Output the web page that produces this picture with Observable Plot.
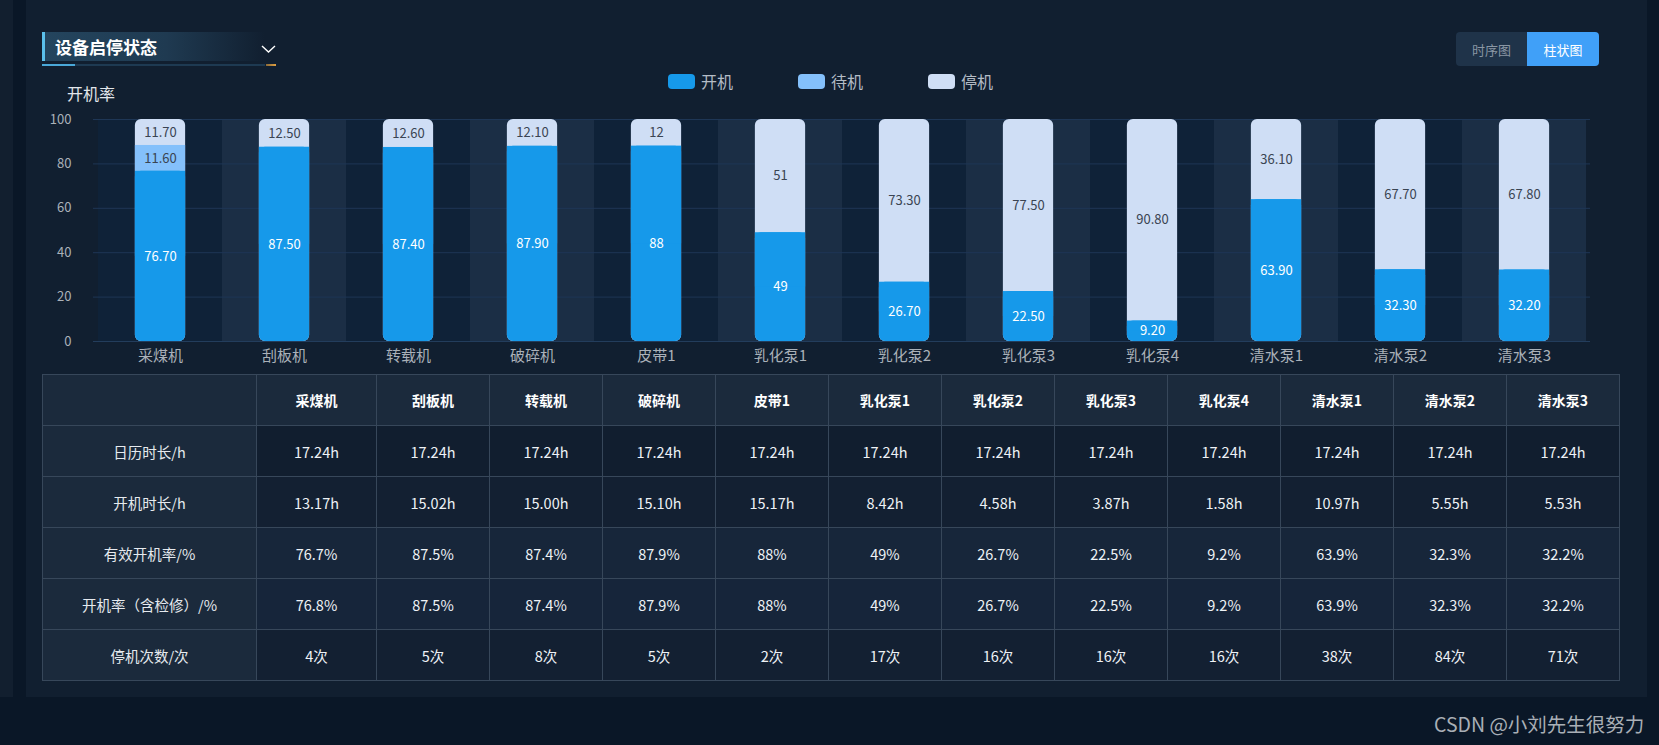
<!DOCTYPE html>
<html><head><meta charset="utf-8">
<script src="https://cdn.jsdelivr.net/npm/d3@7"></script>
<script src="https://cdn.jsdelivr.net/npm/@observablehq/plot@0.6"></script>
<style>
html,body{margin:0;padding:0}
body{width:1659px;height:745px;background:#0a1727;position:relative;overflow:hidden;font-family:"Noto Sans CJK SC","Noto Sans",sans-serif}
.abs{position:absolute}
#title{left:42px;top:32px;width:223px;height:29px;border-left:3px solid #5bc0eb;box-sizing:border-box;
  background:linear-gradient(to right,#24455e 0%,#1f3a51 55%,rgba(17,31,48,0.2) 100%);
  color:#fff;font-weight:bold;font-size:17px;line-height:29px;padding-left:10px}
.leg{top:72px;height:18px;display:flex;align-items:center;color:#b4bcc6;font-size:16px}
.sw{width:27px;height:15px;border-radius:4px;margin-right:6px}
#toggle{left:1456px;top:32px;width:143px;height:34px;border-radius:4px;overflow:hidden;display:flex;font-size:13px}
#toggle div{display:flex;align-items:center;justify-content:center}
table{border-collapse:collapse;table-layout:fixed;font-size:14.5px;color:#eef2f6}
td,th{border:1px solid #37475a;text-align:center;padding:0}
th{font-weight:bold;color:#fff;background:#1b2a3c;font-size:14px}
td.lab{background:#1b2a3c;color:#e6eaef}
</style></head><body>
<div class="abs" style="left:0;top:0;width:13px;height:697px;background:#121f2f"></div>
<div class="abs" style="left:26px;top:0;width:1621px;height:697px;background:#111f30"></div>
<div class="abs" id="title">设备启停状态</div>
<svg class="abs" style="left:260px;top:43px" width="18" height="12"><polyline points="2,3 8.5,9 15,3" fill="none" stroke="#fff" stroke-width="1.4"/></svg>
<div class="abs" style="left:42px;top:64px;width:223px;height:2px;background:#1e3a52"></div>
<div class="abs" style="left:42px;top:64px;width:33px;height:2px;background:#4aa8d8"></div>
<div class="abs" style="left:266px;top:64px;width:10px;height:2px;background:linear-gradient(to right,#8a6a3a,#e0a040)"></div>
<div class="abs" id="toggle"><div style="width:71px;background:#1f3349;color:#8a96a4">时序图</div><div style="width:72px;background:#40a0f8;color:#fff">柱状图</div></div>
<div id="legend"></div>
<div class="abs" style="left:67px;top:81px;font-size:16px;color:#e2e6eb">开机率</div>
<div class="abs" id="chart" style="left:0;top:100px"></div>
<table class="abs" id="tbl" style="left:42px;top:374px;width:1578px"></table>
<div class="abs" style="left:1434px;top:709px;font-size:19.5px;color:#a9afb6">CSDN @小刘先生很努力</div>
<script>
const categories = ["采煤机","刮板机","转载机","破碎机","皮带1","乳化泵1","乳化泵2","乳化泵3","乳化泵4","清水泵1","清水泵2","清水泵3"];
const runValues = [76.7,87.5,87.4,87.9,88,49,26.7,22.5,9.2,63.9,32.3,32.2];
const standbyValues = [11.6,0,0,0,0,0,0,0,0,0,0,0];
const stopValues = [11.7,12.5,12.6,12.1,12,51,73.3,77.5,90.8,36.1,67.7,67.8];
const yTicks = [0,20,40,60,80,100];
const seriesNames = ["开机","待机","停机"];
const seriesColors = ["#1699ea","#84c0fb","#cfdef5"];

const rowLabels = ["日历时长/h","开机时长/h","有效开机率/%","开机率（含检修）/%","停机次数/次"];
const calendarHours = [17.24,17.24,17.24,17.24,17.24,17.24,17.24,17.24,17.24,17.24,17.24,17.24];
const runHours = [13.17,15.02,15.00,15.10,15.17,8.42,4.58,3.87,1.58,10.97,5.55,5.53];
const effectiveRate = [76.7,87.5,87.4,87.9,88,49,26.7,22.5,9.2,63.9,32.3,32.2];
const rateWithRepair = [76.8,87.5,87.4,87.9,88,49,26.7,22.5,9.2,63.9,32.3,32.2];
const stopCounts = [4,5,8,5,2,17,16,16,16,38,84,71];

const fmt = v => Number.isInteger(v) ? String(v) : v.toFixed(2);
const rows = categories.map((c,i)=>({cat:c,on:runValues[i],standby:standbyValues[i],off:stopValues[i]}));

// legend
const legend = document.getElementById("legend");
const legX = [668,798,928];
seriesNames.forEach((n,i)=>{
  const d = document.createElement("div");
  d.className="abs leg"; d.style.left=legX[i]+"px";
  d.innerHTML = `<div class="sw" style="background:${seriesColors[i]}"></div><span>${n}</span>`;
  legend.appendChild(d);
});

const W=1659,H=270,mL=93,mR=69,mT=19,mB=29;
const step=(W-mL-mR)/categories.length, barW=51, ins=(step-barW)/2;
const bi={insetLeft:ins,insetRight:ins};
const chart = Plot.plot({
  width:W,height:H,marginLeft:mL,marginRight:mR,marginTop:mT,marginBottom:mB,
  style:{background:"transparent",fontFamily:'"Noto Sans CJK SC","Noto Sans",sans-serif',fontSize:"13px",color:"#aab1b9",overflow:"visible"},
  x:{domain:categories,padding:0,label:null},
  y:{domain:[0,100],label:null},
  marks:[
    Plot.cell(categories.filter((d,i)=>i%2===0),{x:d=>d,fill:"#0f2238"}),
    Plot.cell(categories.filter((d,i)=>i%2===1),{x:d=>d,fill:"#1b2e45"}),
    Plot.gridY(yTicks.filter(t=>t>0),{stroke:"#1e3655",strokeOpacity:1}),
    Plot.ruleY([0],{stroke:"#233d5c"}),
    Plot.axisX({tickSize:0,tickPadding:9,fontSize:15,label:null,fill:"#aab1b9"}),
    Plot.axisY({ticks:yTicks,tickSize:0,tickPadding:22,fontSize:13,label:null,fill:"#aab1b9"}),
    Plot.barY(rows,{x:"cat",y:d=>d.on+d.standby+d.off,fill:seriesColors[2],rx:6,...bi}),
    Plot.barY(rows,{x:"cat",y1:d=>d.on,y2:d=>d.on+d.standby,fill:seriesColors[1],...bi}),
    Plot.barY(rows,{x:"cat",y:"on",fill:seriesColors[0],rx:6,...bi}),
    Plot.barY(rows,{x:"cat",y1:d=>d.on/2,y2:"on",fill:seriesColors[0],...bi}),
    Plot.text(rows,{x:"cat",y:d=>d.on/2,text:d=>fmt(d.on),fill:"#ffffff",fontSize:13}),
    Plot.text(rows.filter(d=>d.standby>0),{x:"cat",y:d=>d.on+d.standby/2,text:d=>fmt(d.standby),fill:"#3a4452",fontSize:13}),
    Plot.text(rows,{x:"cat",y:d=>d.on+d.standby+d.off/2,text:d=>fmt(d.off),fill:"#3a4452",fontSize:13})
  ]
});
document.getElementById("chart").appendChild(chart);

// table
const tbl = document.getElementById("tbl");
let html = '<colgroup><col style="width:214px"><col style="width:120px">' + categories.slice(1).map(()=>'<col>').join('') + '</colgroup>';
html += '<tr style="height:51px"><th></th>' + categories.map(c=>`<th>${c}</th>`).join('') + '</tr>';
const tableRows = [
  calendarHours.map(v=>v.toFixed(2)+"h"),
  runHours.map(v=>v.toFixed(2)+"h"),
  effectiveRate.map(v=>v+"%"),
  rateWithRepair.map(v=>v+"%"),
  stopCounts.map(v=>v+"次")
];
const rowBg = ["#111e2f","#132032","#17263a","#16253a","#132032"];
tableRows.forEach((r,i)=>{
  html += `<tr style="height:51px"><td class="lab">${rowLabels[i]}</td>` + r.map(v=>`<td style="background:${rowBg[i]}">${v}</td>`).join('') + '</tr>';
});
tbl.innerHTML = html;
</script>
</body></html>
